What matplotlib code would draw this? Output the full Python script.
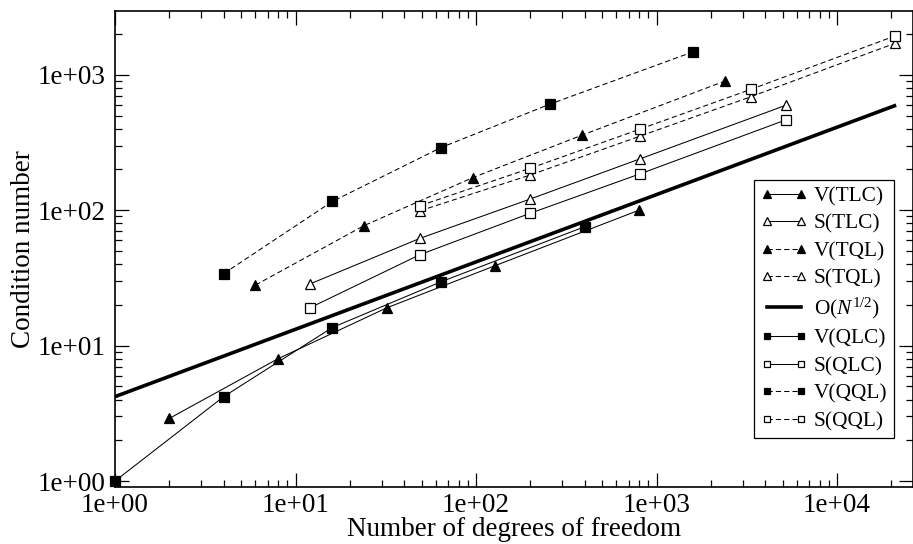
import matplotlib
matplotlib.use('Agg')
import matplotlib.pyplot as plt
from matplotlib.ticker import LogLocator, FuncFormatter, NullFormatter

plt.rcParams['font.family'] = ['Liberation Serif', 'DejaVu Serif']
plt.rcParams['mathtext.fontset'] = 'custom'
plt.rcParams['mathtext.rm'] = 'Liberation Serif'
plt.rcParams['mathtext.it'] = 'Liberation Serif:italic'

# triangle elements
v_tlc_n = [2, 8, 32, 128, 800]
v_tlc_c = [2.9, 8.0, 19.0, 39.0, 100.0]
s_tlc_n = [12, 49, 200, 815, 5200]
s_tlc_c = [28.5, 62.0, 121.0, 240.0, 595.0]
v_tql_n = [6, 24, 96, 384, 2400]
v_tql_c = [28.0, 77.0, 174.0, 357.0, 900.0]
s_tql_n = [49, 200, 815, 3340, 20950]
s_tql_c = [99.0, 182.0, 353.0, 689.0, 1708.0]

# reference slope
ref_n = [1, 20800]
ref_c = [4.2, 590.0]

# quadrilateral elements
v_qlc_n = [1, 4, 16, 64, 400]
v_qlc_c = [1.0, 4.2, 13.6, 29.6, 75.5]
s_qlc_n = [12, 49, 200, 815, 5200]
s_qlc_c = [19.0, 47.0, 95.0, 186.0, 464.0]
v_qql_n = [4, 16, 64, 256, 1600]
v_qql_c = [34.0, 116.0, 290.0, 606.0, 1480.0]
s_qql_n = [49, 200, 815, 3340, 20950]
s_qql_c = [108.0, 204.0, 398.0, 781.0, 1935.0]

fig = plt.figure(figsize=(9.13, 5.44), dpi=100)
ax = fig.add_axes([115 / 913, 1 - 487 / 544, 797.5 / 913, 476.3 / 544])

dash = (0, (5, 3))
thin = 0.75


def series(n, c, marker, filled, ls, label):
    ax.plot(n, c, color='black', lw=thin, ls=ls, marker=marker,
            markersize=7.3 if marker == '^' else 6.6,
            markerfacecolor='black' if filled else 'white',
            markeredgecolor='black', markeredgewidth=0.9,
            label=label, clip_on=False, zorder=3)


series(v_tlc_n, v_tlc_c, '^', True, '-', 'V(TLC)')
series(s_tlc_n, s_tlc_c, '^', False, '-', 'S(TLC)')
series(v_tql_n, v_tql_c, '^', True, dash, 'V(TQL)')
series(s_tql_n, s_tql_c, '^', False, dash, 'S(TQL)')
ax.plot(ref_n, ref_c, color='black', lw=2.6, label=r'O($N^{1/2}$)', zorder=2)
series(v_qlc_n, v_qlc_c, 's', True, '-', 'V(QLC)')
series(s_qlc_n, s_qlc_c, 's', False, '-', 'S(QLC)')
series(v_qql_n, v_qql_c, 's', True, dash, 'V(QQL)')
series(s_qql_n, s_qql_c, 's', False, dash, 'S(QQL)')

ax.set_xscale('log')
ax.set_yscale('log')
ax.set_xlim(1, 10 ** 4.418)
ax.set_ylim(10 ** -0.044, 10 ** 3.473)

fmt = FuncFormatter(lambda v, _: f'{v:.0e}')
for axis in (ax.xaxis, ax.yaxis):
    axis.set_major_locator(LogLocator(base=10, numticks=20))
    axis.set_minor_locator(LogLocator(base=10, subs=range(2, 10), numticks=20))
    axis.set_major_formatter(fmt)
    axis.set_minor_formatter(NullFormatter())

ax.tick_params(which='both', direction='in', top=True, right=True,
               width=0.9, labelsize=19.5, pad=7)
ax.tick_params(axis='x', pad=4)
ax.tick_params(which='major', length=10)
ax.tick_params(which='minor', length=5)
for sp in ax.spines.values():
    sp.set_linewidth(1.2)

ax.set_xlabel('Number of degrees of freedom', fontsize=19.5, labelpad=-0.5)
ax.set_ylabel('Condition number', fontsize=19.5, labelpad=1)

leg = ax.legend(loc='upper right', bbox_to_anchor=(0.977, 0.645),
                fontsize=15.4, numpoints=2, markerscale=0.72,
                handlelength=2.2, handletextpad=0.3, labelspacing=0.35,
                borderpad=0.3, borderaxespad=0, fancybox=False,
                framealpha=1, edgecolor='black')
leg.get_frame().set_linewidth(0.9)

fig.savefig('out.png', dpi=100)
